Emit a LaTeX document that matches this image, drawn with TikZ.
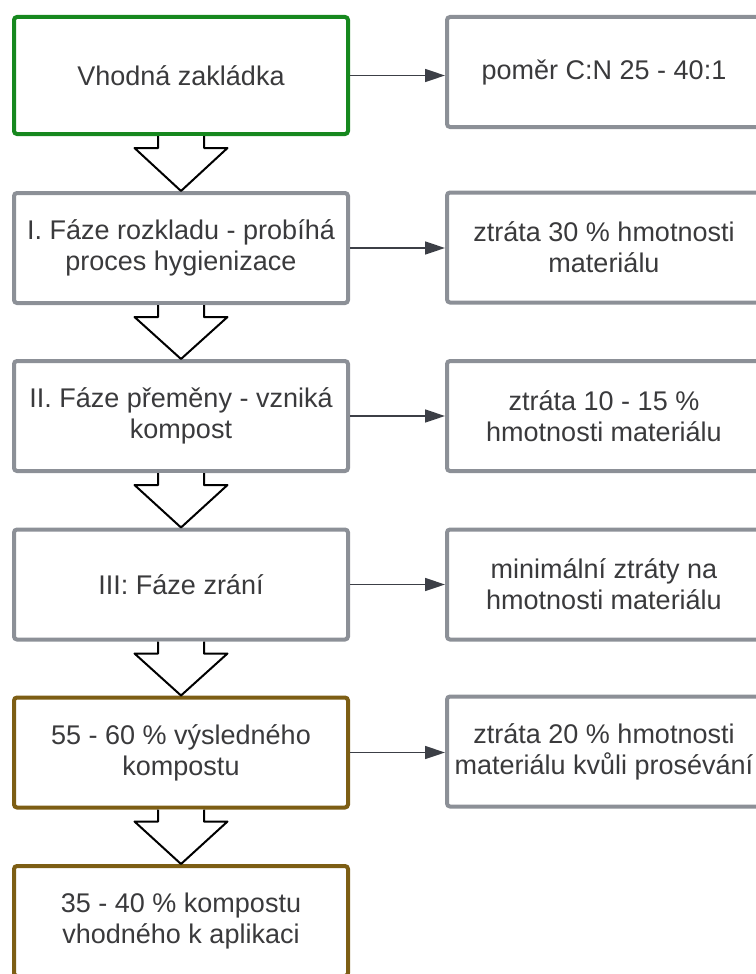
\documentclass[tikz,border=0pt]{standalone}
\usepackage{fontspec}
\setmainfont{Liberation Sans}
\usetikzlibrary{arrows.meta,calc}

\begin{document}
\begin{tikzpicture}[x=1pt,y=-1pt,
    box/.style={draw=sedoramecek, line width=4pt, fill=white, rounded corners=3pt,
        align=center, text=textbarva, inner sep=0pt,
        font=\fontsize{27}{31}\selectfont,
        minimum width=334pt, minimum height=110pt},
    vpravo/.style={box, minimum width=314pt},
    sipka/.style={draw=carabarva, line width=1.5pt, -{Triangle[length=20pt,width=13pt]}},
    blok/.style={draw=black, line width=2pt, fill=white, line join=round}]
    % Barvy
    \definecolor{zelena}{RGB}{22,136,30}
    \definecolor{hneda}{RGB}{125,94,20}
    \definecolor{sedoramecek}{RGB}{140,144,151}
    \definecolor{textbarva}{RGB}{58,58,60}
    \definecolor{carabarva}{RGB}{60,63,70}

    \useasboundingbox (0,0) rectangle (755,974);

    % Levy sloupec - faze kompostovani
    \node[box, draw=zelena, minimum height=117pt] (zakladka) at (181,75.5) {Vhodná zakládka};
    \node[box] (rozklad) at (181,248) {I. Fáze rozkladu - probíhá\\proces hygienizace};
    \node[box] (premena) at (181,416) {II. Fáze přeměny - vzniká\\kompost};
    \node[box] (zrani) at (181,584.5) {III: Fáze zrání};
    \node[box, draw=hneda] (vysledek) at (181,752.5) {55 - 60 \% výsledného\\kompostu};
    \node[box, draw=hneda] (aplikace) at (181,921) {35 - 40 \% kompostu\\vhodného k aplikaci};

    % Pravy sloupec - ztraty (presahuje okraj)
    \node[vpravo] (pomer) at (604,72) {poměr C:N 25 - 40:1};
    \node[vpravo] (ztrata1) at (604,247.5) {ztráta 30 \% hmotnosti\\materiálu};
    \node[vpravo] (ztrata2) at (604,416) {ztráta 10 - 15 \%\\hmotnosti materiálu};
    \node[vpravo] (ztrata3) at (604,584.5) {minimální ztráty na\\hmotnosti materiálu};
    \node[vpravo] (ztrata4) at (604,751.5) {ztráta 20 \% hmotnosti\\materiálu kvůli prosévání};

    % Sipky doprava
    \foreach \a/\b in {zakladka/pomer, rozklad/ztrata1, premena/ztrata2, zrani/ztrata3, vysledek/ztrata4} {
        \draw[sipka] (\a.east) -- (\a.east -| \b.west);
    }

    % Blokove sipky dolu
    \foreach \a/\b in {zakladka/rozklad, rozklad/premena, premena/zrani, zrani/vysledek, vysledek/aplikace} {
        \draw[blok] ($(\a.south)+(-23,0)$) -- ($(\a.south)+(-23,12)$) -- ($(\a.south)+(-46.5,12)$)
            -- (\b.north) -- ($(\a.south)+(46.5,12)$) -- ($(\a.south)+(23,12)$) -- ($(\a.south)+(23,0)$);
    }
\end{tikzpicture}
\end{document}
